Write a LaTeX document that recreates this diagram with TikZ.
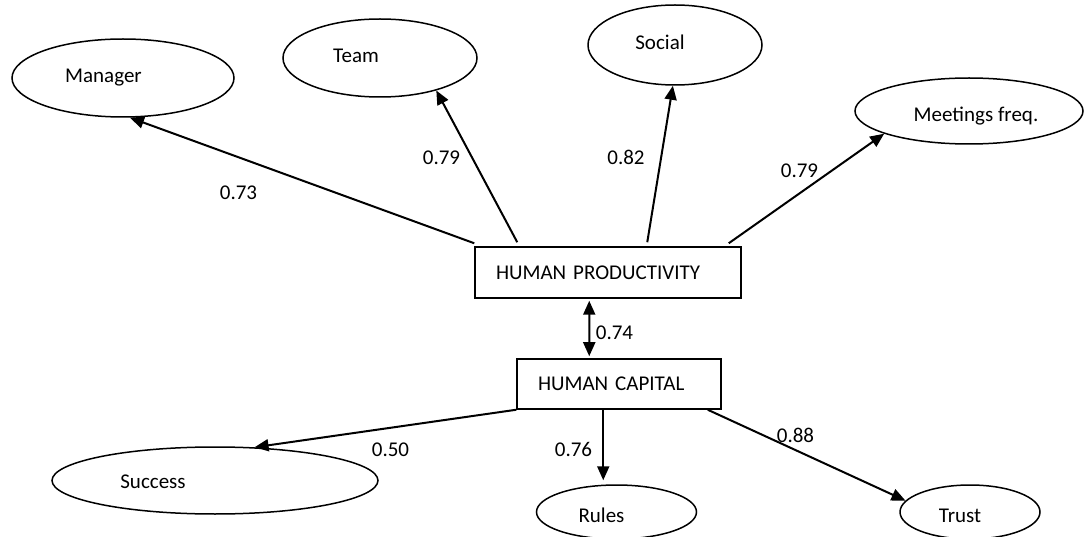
\documentclass[tikz,border=0pt]{standalone}
\usepackage{fontspec}
\setmainfont{Carlito}
\usetikzlibrary{shapes.geometric,arrows.meta,calc}
\begin{document}
\begin{tikzpicture}[x=1bp,y=-1bp,
  every node/.style={font=\fontsize{21bp}{25bp}\selectfont},
  oval/.style={draw, ellipse, line width=1.5bp, inner sep=0pt},
  boxnode/.style={draw, rectangle, line width=1.5bp, inner ysep=0pt, inner xsep=21bp, align=left},
  txt/.style={inner sep=0pt, anchor=base},
  lbl/.style={inner sep=0pt, anchor=base},
  conn/.style={line width=2bp, -{Triangle[length=14bp,width=12bp]}},
  biconn/.style={line width=2bp, {Triangle[length=14bp,width=12bp]}-{Triangle[length=14bp,width=12bp]}}
]
\useasboundingbox (0,0) rectangle (1086,537);

% ellipses
\node[oval, minimum width=222bp, minimum height=78bp] (man) at (123,78) {};
\node[txt] (mantxt) at (103.5,83) {Manager};
\node[oval, minimum width=194bp, minimum height=78bp] (team) at (380,58) {};
\node[txt] (teamtxt) at (356,63) {Team};
\node[oval, minimum width=174bp, minimum height=80bp] (social) at (675,45) {};
\node[txt] (socialtxt) at (660,50) {Social};
\node[oval, minimum width=228bp, minimum height=66bp] (meet) at (969,111) {};
\node[txt] (meettxt) at (976,121.5) {Meetings freq.};
\node[oval, minimum width=326bp, minimum height=67bp] (succ) at (215,480.5) {};
\node[txt] (succtxt) at (153,488.5) {Success};
\node[oval, minimum width=160bp, minimum height=54bp] (rules) at (616.5,512) {};
\node[txt] (rulestxt) at (601.5,522) {Rules};
\node[oval, minimum width=140bp, minimum height=54bp] (trust) at (970,512) {};
\node[txt] (trusttxt) at (960,522) {Trust};

% boxes
\node[boxnode, minimum width=266bp, minimum height=51bp, text width=224bp] (hp) at (608,272.5) {HUMAN PRODUCTIVITY};
\node[boxnode, minimum width=204bp, minimum height=50bp, text width=162bp] (hc) at (619,384) {HUMAN CAPITAL};

% connectors
\coordinate (s1) at ($(hp.north west)+(0,-3)$);
\coordinate (s2) at ($(hp.north west)+(43,-4)$);
\coordinate (s3) at ($(hp.north west)+(173,-4)$);
\coordinate (s4) at ($(hp.north east)+(-13,-3)$);
\draw[conn] (s1) -- (man.-80);
\draw[conn] (s2) -- (team.-30);
\draw[conn] (s3) -- (social.-93);
\draw[conn] (s4) -- (meet.-165);

\coordinate (b1) at ($(hp.south west)+(115,2)$);
\coordinate (b2) at ($(hc.north west)+(73,-2)$);
\draw[biconn] (b1) -- (b2);

\coordinate (rs) at ($(hc.south west)+(87,0)$);
\coordinate (re) at ($(rs |- rules.north)+(0,-4)$);
\coordinate (ts) at ($(hc.south east)+(-14,0)$);
\draw[conn] (hc.south west) -- (succ.40);
\draw[conn] (rs) -- (re);
\draw[conn] (ts) -- (trust.170);

% labels
\node[lbl] (l1) at (238.5,200) {0.73};
\node[lbl] (l2) at (441.5,165) {0.79};
\node[lbl] (l3) at (626,165) {0.82};
\node[lbl] (l4) at (799.5,178) {0.79};
\node[lbl] (l5) at (614.5,340) {0.74};
\node[lbl] (l6) at (390.5,456) {0.50};
\node[lbl] (l7) at (573.5,456) {0.76};
\node[lbl] (l8) at (795.5,442) {0.88};
\end{tikzpicture}
\end{document}
